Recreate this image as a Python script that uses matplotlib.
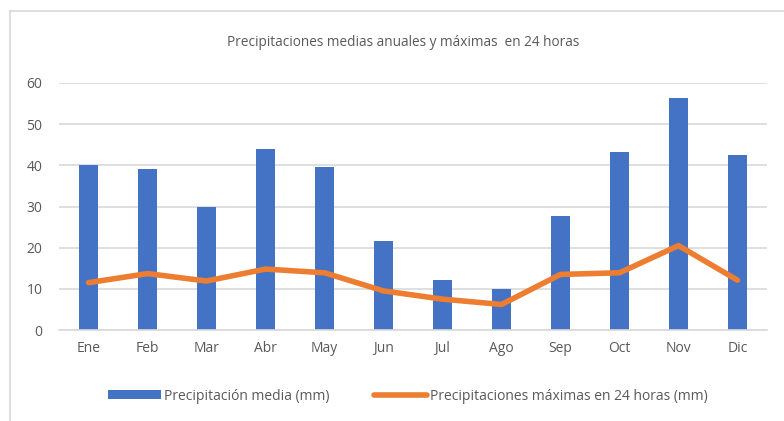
import matplotlib
matplotlib.use("Agg")
import matplotlib.pyplot as plt
from matplotlib.lines import Line2D
from matplotlib.patches import Patch

months = ["Ene", "Feb", "Mar", "Abr", "May", "Jun", "Jul", "Ago", "Sep", "Oct", "Nov", "Dic"]
precip_media = [40.1, 39.1, 30.0, 43.9, 39.7, 21.6, 12.1, 10.0, 27.7, 43.2, 56.4, 42.4]
precip_max24 = [11.5, 13.7, 11.9, 14.8, 13.9, 9.5, 7.5, 6.2, 13.5, 13.9, 20.5, 12.1]
yticks = [0, 10, 20, 30, 40, 50, 60]

title = "Precipitaciones medias anuales y máximas  en 24 horas"
label_bar = "Precipitación media (mm)"
label_line = "Precipitaciones máximas en 24 horas (mm)"

plt.rcParams['font.family'] = ['Open Sans', 'DejaVu Sans']
text_color = "#595959"
grid_color = "#d9d9d9"
blue = "#4472C4"
orange = "#ED7D31"

fig = plt.figure(figsize=(7.84, 4.21), dpi=100)
ax = fig.add_axes([59/784, 1 - 330/421, (767-59)/784, (330-83)/421])

x = list(range(len(months)))
ax.bar(x, precip_media, width=0.32, color=blue, zorder=2)
ax.plot(x, precip_max24, color=orange, linewidth=4.0, solid_capstyle='round',
        solid_joinstyle='round', zorder=3)

ax.set_xlim(-0.5, len(months) - 0.5)
ax.set_ylim(0, 60)
ax.set_yticks(yticks)
ax.set_xticks(x)
ax.set_xticklabels(months)
ax.yaxis.grid(True, color=grid_color, linewidth=1.2, zorder=0)
ax.set_axisbelow(True)
for s in ["top", "right", "left"]:
    ax.spines[s].set_visible(False)
ax.spines["bottom"].set_color(grid_color)
ax.spines["bottom"].set_linewidth(1.2)
ax.tick_params(axis='both', length=0, colors=text_color, labelsize=10)
ax.tick_params(axis='y', pad=12)
ax.tick_params(axis='x', pad=8)

fig.text(403/784, 1 - 42/421, title, ha='center', va='center', fontsize=9.8, color=text_color)

handles = [Patch(facecolor=blue, edgecolor='none'),
           Line2D([0], [0], color=orange, linewidth=4.0, solid_capstyle='round')]
leg = fig.legend(handles, [label_bar, label_line], loc='center',
                 bbox_to_anchor=(408/784, 1 - 396/421), ncol=2, frameon=False,
                 fontsize=10, handlelength=3.8, handleheight=0.6, handletextpad=0.25,
                 columnspacing=3.2)
for t in leg.get_texts():
    t.set_color(text_color)

# chart border (top and left visible)
fig.add_artist(Line2D([10/784, 1], [1 - 11/421, 1 - 11/421], color=grid_color, linewidth=1.2,
                      transform=fig.transFigure))
fig.add_artist(Line2D([10/784, 10/784], [0, 1 - 11/421], color=grid_color, linewidth=1.2,
                      transform=fig.transFigure))

fig.savefig("out.png", dpi=100)
